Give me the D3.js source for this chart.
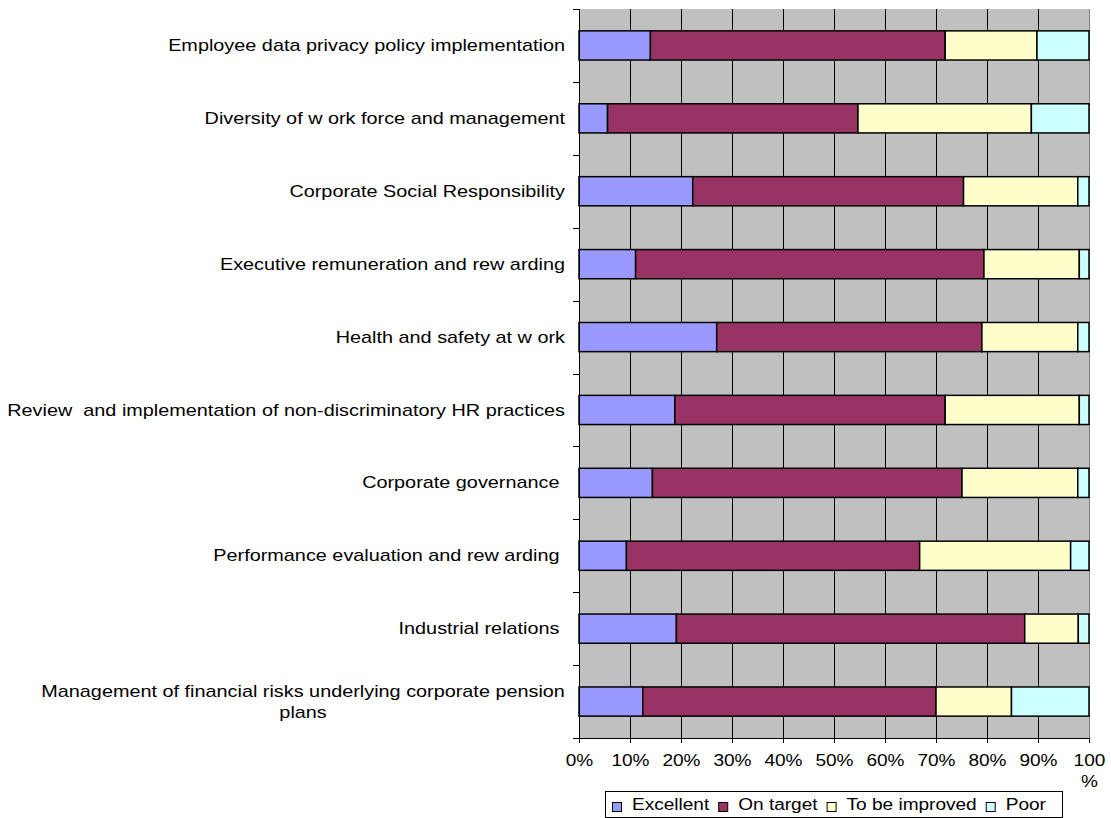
<!DOCTYPE html>
<html>
<head>
<meta charset="utf-8">
<script src="https://cdn.jsdelivr.net/npm/d3@7"></script>
<style>
  html, body { margin: 0; padding: 0; background: #ffffff; }
  svg { display: block; }
  text { font-family: "Liberation Sans", Arial, sans-serif; font-size: 16px; fill: #000; white-space: pre; }
</style>
</head>
<body>
<svg id="chart" width="1111" height="818"></svg>
<script>
// Assessment areas, top to bottom
const categories = [
  "Employee data privacy policy implementation",
  "Diversity of w ork force and management",
  "Corporate Social Responsibility",
  "Executive remuneration and rew arding",
  "Health and safety at w ork",
  "Review  and implementation of non-discriminatory HR practices",
  "Corporate governance ",
  "Performance evaluation and rew arding ",
  "Industrial relations ",
  "Management of financial risks underlying corporate pension plans"
];

// Share of answers per rating (%)
const seriesNames = ["Excellent", "On target", "To be improved", "Poor"];
const excellent    = [14.0,  5.6, 22.3, 11.1, 27.0, 18.8, 14.4,  9.3, 19.1, 12.5];
const onTarget     = [57.8, 49.1, 53.1, 68.3, 52.0, 53.0, 60.7, 57.5, 68.3, 57.5];
const toBeImproved = [18.0, 34.0, 22.4, 18.7, 18.8, 26.3, 22.7, 29.6, 10.5, 14.8];
const poor         = [10.2, 11.3,  2.2,  1.9,  2.2,  1.9,  2.2,  3.6,  2.1, 15.2];

const xTickValues = [0, 0.1, 0.2, 0.3, 0.4, 0.5, 0.6, 0.7, 0.8, 0.9, 1.0];
const xTickLabels = ["0%", "10%", "20%", "30%", "40%", "50%", "60%", "70%", "80%", "90%", "100 %"];

const colors = ["#9999FF", "#993366", "#FFFFCC", "#CCFFFF"];
const SX_LABEL = 1.24; // horizontal stretch of category labels
const SX = 1.19;       // horizontal stretch of tick and legend text

const rows = categories.map((c, i) => ({
  cat: c,
  "Excellent": excellent[i],
  "On target": onTarget[i],
  "To be improved": toBeImproved[i],
  "Poor": poor[i]
}));

const stacked = d3.stack().keys(seriesNames).offset(d3.stackOffsetExpand)(rows);

const svg = d3.select("#chart");
const plotLeft = 579, plotRight = 1089, plotTop = 9, plotBottom = 738;

const x = d3.scaleLinear().domain([0, 1]).range([plotLeft, plotRight]);
const y = d3.scaleBand().domain(categories).range([plotTop, plotBottom])
  .paddingInner(0.6).paddingOuter(0.3);
const color = d3.scaleOrdinal().domain(seriesNames).range(colors);

// plot background
svg.append("rect")
  .attr("x", plotLeft).attr("y", plotTop)
  .attr("width", plotRight - plotLeft).attr("height", plotBottom - plotTop)
  .attr("fill", "#C0C0C0");

// vertical gridlines
svg.append("g").selectAll("line")
  .data(xTickValues.slice(1, -1))
  .join("line")
  .attr("x1", d => Math.round(x(d)) + 0.5).attr("x2", d => Math.round(x(d)) + 0.5)
  .attr("y1", plotTop).attr("y2", plotBottom)
  .attr("stroke", "#000").attr("stroke-width", 1);

// right plot border
svg.append("line")
  .attr("x1", plotRight + 0.5).attr("x2", plotRight + 0.5)
  .attr("y1", plotTop).attr("y2", plotBottom)
  .attr("stroke", "#808080").attr("stroke-width", 1);

// stacked bars
svg.append("g").selectAll("g")
  .data(stacked)
  .join("g")
  .attr("fill", d => color(d.key))
  .selectAll("rect")
  .data(d => d)
  .join("rect")
  .attr("x", d => x(d[0]))
  .attr("y", d => y(d.data.cat))
  .attr("width", d => x(d[1]) - x(d[0]))
  .attr("height", y.bandwidth())
  .attr("stroke", "#000")
  .attr("stroke-width", 1.5);

// bottom axis
const xAxis = d3.axisBottom(x)
  .tickValues(xTickValues)
  .tickFormat((d, i) => xTickLabels[i])
  .tickSize(5)
  .tickSizeOuter(0);
const gx = svg.append("g").attr("transform", `translate(0,${plotBottom})`).call(xAxis);
gx.attr("font-family", null).attr("font-size", null);
gx.select(".domain").attr("stroke", "#000");
gx.selectAll(".tick line").attr("stroke", "#000");
gx.selectAll(".tick text")
  .attr("transform", `scale(${SX},1)`)
  .attr("y", 22)
  .attr("dy", null)
  .each(function(d, i) {
    const t = d3.select(this);
    const parts = xTickLabels[i].split(" ");
    t.text(null);
    parts.forEach((p, k) => {
      t.append("tspan").attr("x", 0).attr("dy", k === 0 ? "0.35em" : 21).text(p);
    });
  });

// left axis with ticks at category boundaries
const gy = svg.append("g");
gy.append("line")
  .attr("x1", plotLeft + 0.5).attr("x2", plotLeft + 0.5)
  .attr("y1", plotTop).attr("y2", plotBottom + 0.5)
  .attr("stroke", "#000");
const boundaries = d3.range(categories.length + 1).map(i => plotTop + i * y.step());
gy.selectAll(".bt").data(boundaries).join("line")
  .attr("class", "bt")
  .attr("x1", plotLeft - 6).attr("x2", plotLeft)
  .attr("y1", d => Math.round(d) + 0.5).attr("y2", d => Math.round(d) + 0.5)
  .attr("stroke", "#000");

// category labels, wrapped when too wide and right-aligned as a block
const labelRight = 565, maxLabelWidth = 562, lineH = 21;
const labels = svg.append("g");
categories.forEach(cat => {
  const cy = y(cat) + y.bandwidth() / 2;
  const g = labels.append("g");
  const probe = g.append("text").text(cat);
  const words = cat.split(" ");
  const lines = [];
  let cur = "";
  words.forEach(w => {
    const trial = cur === "" ? w : cur + " " + w;
    probe.text(trial);
    if (probe.node().getComputedTextLength() * SX_LABEL > maxLabelWidth && cur !== "") {
      lines.push(cur);
      cur = w;
    } else {
      cur = trial;
    }
  });
  lines.push(cur);
  probe.remove();
  if (lines.length === 1) {
    g.attr("transform", `translate(${labelRight},${cy}) scale(${SX_LABEL},1)`)
      .append("text").attr("text-anchor", "end").attr("dy", "0.35em").text(cat);
  } else {
    const widths = lines.map(l => {
      const t = g.append("text").text(l);
      const w = t.node().getComputedTextLength() * SX_LABEL;
      t.remove();
      return w;
    });
    const cx = labelRight - d3.max(widths) / 2;
    g.attr("transform", `translate(${cx},${cy}) scale(${SX_LABEL},1)`);
    lines.forEach((l, k) => {
      g.append("text").attr("text-anchor", "middle")
        .attr("y", (k - (lines.length - 1) / 2) * lineH)
        .attr("dy", "0.35em").text(l);
    });
  }
});

// legend
const legend = svg.append("g");
legend.append("rect")
  .attr("x", 605.5).attr("y", 791.5)
  .attr("width", 457).attr("height", 26)
  .attr("fill", "#fff").attr("stroke", "#000");
let lx = 612;
seriesNames.forEach(name => {
  legend.append("rect")
    .attr("x", lx + 0.5).attr("y", 802.5)
    .attr("width", 9).attr("height", 9)
    .attr("fill", color(name)).attr("stroke", "#000");
  const tg = legend.append("g").attr("transform", `translate(${lx + 20},810) scale(${SX},1)`);
  const t = tg.append("text").text(name);
  lx += 20 + t.node().getComputedTextLength() * SX + 9;
});
</script>
</body>
</html>
